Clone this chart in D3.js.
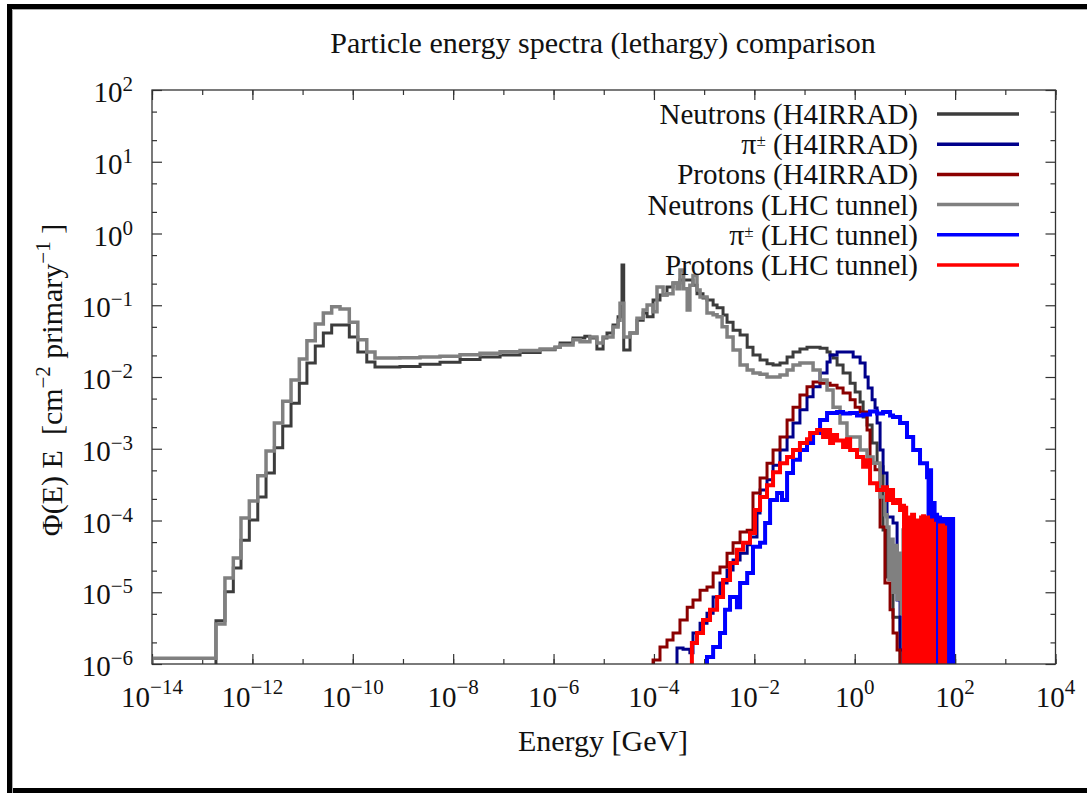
<!DOCTYPE html>
<html>
<head>
<meta charset="utf-8">
<script src="https://cdn.jsdelivr.net/npm/d3@7"></script>
<style>
  body { margin: 0; background: #fff; }
</style>
</head>
<body>
<div id="chart"></div>
<script>
// Data: [E (GeV, left bin edge), lethargy fluence Φ(E)·E (cm^-2 primary^-1)]
// the last pair only closes the last bin; 0 = no flux (drawn below the axis)
const neutronsH4 = [
  [1.88e-13, 4.0e-6], [2.84e-13, 1.02e-5], [4.17e-13, 2.18e-5], [5.93e-13, 5.3e-5], [8.69e-13, 1.02e-4],
  [1.28e-12, 2.13e-4], [1.87e-12, 4.6e-4], [2.74e-12, 1.03e-3], [4.02e-12, 2.07e-3], [5.89e-12, 4.3e-3],
  [8.61e-12, 8.2e-3], [1.22e-11, 1.57e-2], [1.79e-11, 2.7e-2], [2.59e-11, 4.1e-2], [3.8e-11, 5.3e-2],
  [5.57e-11, 5.3e-2], [8.53e-11, 3.6e-2], [1.26e-10, 2.23e-2], [1.9e-10, 1.62e-2], [2.77e-10, 1.38e-2],
  [8.7e-10, 1.4e-2], [2.19e-9, 1.5e-2], [5.47e-9, 1.6e-2], [1.37e-8, 1.75e-2], [3.43e-8, 1.9e-2],
  [8.6e-8, 2.03e-2], [2.15e-7, 2.2e-2], [5.4e-7, 2.4e-2], [1.07e-6, 2.6e-2], [1.35e-6, 2.98e-2],
  [2.44e-6, 3.5e-2], [4.2e-6, 3.7e-2], [5.3e-6, 3.5e-2], [7.3e-6, 2.45e-2], [9.7e-6, 3.5e-2],
  [1.16e-5, 4.1e-2], [1.53e-5, 5.3e-2], [1.93e-5, 6.9e-2], [2.31e-5, 0.364], [2.5e-5, 2.38e-2],
  [3.34e-5, 4.1e-2], [4.6e-5, 6.2e-2], [6.1e-5, 7.8e-2], [7.3e-5, 6.9e-2], [9.6e-5, 0.118],
  [1.32e-4, 0.139], [1.82e-4, 0.18], [2.4e-4, 0.204], [3.3e-4, 0.225], [4.6e-4, 0.225],
  [6.0e-4, 0.19], [7.2e-4, 0.145], [9.5e-4, 0.126], [1.14e-3, 0.118], [1.51e-3, 0.101],
  [1.81e-3, 9.2e-2], [2.38e-3, 7.3e-2], [2.86e-3, 5.8e-2], [3.77e-3, 4.5e-2], [5.2e-3, 3.85e-2],
  [7.2e-3, 2.6e-2], [9.4e-3, 2.03e-2], [1.3e-2, 1.73e-2], [1.79e-2, 1.53e-2], [2.36e-2, 1.47e-2],
  [3.25e-2, 1.57e-2], [4.49e-2, 1.9e-2], [5.9e-2, 2.23e-2], [8.1e-2, 2.45e-2], [0.112, 2.6e-2],
  [0.148, 2.6e-2], [0.204, 2.52e-2], [0.281, 2.23e-2], [0.323, 2.03e-2], [0.37, 1.84e-2],
  [0.445, 1.47e-2], [0.586, 1.14e-2], [0.81, 8.2e-3], [1.02, 6.2e-3], [1.28, 4.5e-3],
  [1.47, 2.77e-3], [1.76, 2.14e-3], [2.22, 1.2e-3], [2.79, 6.3e-4], [3.2, 5.6e-4],
  [3.67, 7.4e-5], [4.4, 1.63e-5], [5.8, 4.5e-6], [8.0, 0]
]

const pionsH4 = [
  [2.88e-4, 1.67e-6], [3.8e-4, 1.6e-6], [5.2e-4, 1.43e-6], [6.0e-4, 2.7e-6], [8.3e-4, 3.7e-6],
  [1.14e-3, 5.1e-6], [1.51e-3, 8.6e-6], [2.07e-3, 1.35e-5], [2.86e-3, 2.04e-5], [3.77e-3, 2.82e-5],
  [5.2e-3, 3.5e-5], [7.2e-3, 4.6e-5], [8.2e-3, 5.9e-5], [1.13e-2, 1.27e-4], [1.3e-2, 2.66e-4],
  [1.79e-2, 3.7e-4], [2.36e-2, 5.9e-4], [3.25e-2, 9.6e-4], [4.49e-2, 1.46e-3], [5.9e-2, 2.29e-3],
  [8.1e-2, 3.5e-3], [0.112, 5.3e-3], [0.148, 7.3e-3], [0.204, 1.14e-2], [0.281, 1.62e-2],
  [0.323, 2.03e-2], [0.445, 2.23e-2], [0.70, 2.23e-2], [0.93, 1.9e-2], [1.28, 1.57e-2],
  [1.61, 1.0e-2], [1.85, 7.0e-3], [2.22, 4.8e-3], [2.54, 3.7e-3], [2.79, 2.29e-3],
  [3.2, 9.6e-4], [3.67, 4.6e-4], [4.4, 1.12e-4], [5.8, 9.2e-5], [6.98, 7.8e-6],
  [8.0, 1.57e-6], [9.2, 0]
]

const protonsH4 = [
  [9.6e-5, 1.14e-6], [1.32e-4, 1.73e-6], [1.82e-4, 2.16e-6], [2.4e-4, 2.7e-6], [3.3e-4, 4.1e-6],
  [4.6e-4, 6.2e-6], [6.0e-4, 7.8e-6], [8.3e-4, 1.07e-5], [1.14e-3, 1.18e-5], [1.51e-3, 1.85e-5],
  [2.07e-3, 2.25e-5], [2.86e-3, 3.5e-5], [3.77e-3, 4.9e-5], [5.2e-3, 6.9e-5], [7.2e-3, 7.3e-5],
  [9.4e-3, 2.42e-4], [1.3e-2, 3.9e-4], [1.79e-2, 6.3e-4], [2.36e-2, 9.6e-4], [3.25e-2, 1.46e-3],
  [4.49e-2, 2.52e-3], [5.9e-2, 3.8e-3], [8.1e-2, 5.6e-3], [0.112, 7.3e-3], [0.148, 8.5e-3],
  [0.204, 8.2e-3], [0.323, 7.7e-3], [0.445, 7.0e-3], [0.586, 6.0e-3], [0.81, 4.8e-3],
  [1.02, 3.8e-3], [1.28, 3.25e-3], [1.76, 1.82e-3], [2.02, 6.3e-4], [2.54, 5.1e-4],
  [3.2, 8.1e-5], [4.0, 1.35e-5], [5.06, 5.7e-6], [5.8, 2.7e-6], [6.98, 1.57e-6], [8.0, 0]
]

const neutronsLhc = [
  [1e-14, 1.2e-6], [1.88e-13, 3.6e-6], [2.84e-13, 1.58e-5], [4.17e-13, 3.0e-5], [5.93e-13, 1.08e-4],
  [8.69e-13, 1.87e-4], [1.28e-12, 4.2e-4], [1.87e-12, 9.3e-4], [2.74e-12, 2.29e-3], [4.02e-12, 4.6e-3],
  [5.89e-12, 9.1e-3], [8.61e-12, 1.78e-2], [1.22e-11, 3.2e-2], [1.79e-11, 5.5e-2], [2.59e-11, 7.8e-2],
  [3.8e-11, 9.5e-2], [5.57e-11, 8.9e-2], [8.53e-11, 5.8e-2], [1.26e-10, 3.3e-2], [1.9e-10, 2.23e-2],
  [2.77e-10, 1.84e-2], [8.7e-10, 1.85e-2], [2.19e-9, 1.9e-2], [5.47e-9, 1.95e-2], [1.37e-8, 2.05e-2],
  [3.43e-8, 2.15e-2], [8.6e-8, 2.25e-2], [2.15e-7, 2.35e-2], [5.4e-7, 2.45e-2], [1.07e-6, 2.6e-2],
  [1.35e-6, 2.8e-2], [2.44e-6, 3.3e-2], [3.37e-6, 3.1e-2], [5.3e-6, 3.6e-2], [7.3e-6, 2.98e-2],
  [9.7e-6, 3.6e-2], [1.53e-5, 4.98e-2], [1.93e-5, 6.2e-2], [2.11e-5, 0.107], [2.5e-5, 3.6e-2],
  [3.34e-5, 4.1e-2], [4.6e-5, 6.6e-2], [6.1e-5, 8.6e-2], [7.3e-5, 0.101], [9.6e-5, 8.1e-2],
  [1.15e-4, 0.18], [1.52e-4, 0.139], [1.82e-4, 0.145], [2.4e-4, 0.204], [2.88e-4, 0.17],
  [3.3e-4, 0.31], [3.9e-4, 0.17], [4.6e-4, 8.6e-2], [5.2e-4, 0.19], [6.0e-4, 0.26],
  [7.2e-4, 0.163], [8.3e-4, 0.13], [1.14e-3, 7.8e-2], [1.51e-3, 7.4e-2], [1.81e-3, 6.9e-2],
  [2.28e-3, 5.0e-2], [2.86e-3, 3.6e-2], [3.77e-3, 2.38e-2], [5.2e-3, 1.47e-2], [7.2e-3, 1.25e-2],
  [9.4e-3, 1.14e-2], [1.3e-2, 1.09e-2], [1.79e-2, 1.0e-2], [2.36e-2, 1.0e-2], [3.25e-2, 1.07e-2],
  [4.49e-2, 1.25e-2], [5.9e-2, 1.47e-2], [8.1e-2, 1.57e-2], [0.112, 1.57e-2], [0.148, 1.25e-2],
  [0.204, 9.1e-3], [0.281, 6.6e-3], [0.37, 3.8e-3], [0.51, 2.29e-3], [0.70, 1.46e-3],
  [0.93, 1.46e-3], [1.28, 9.6e-4], [1.76, 7.7e-4], [2.32, 6.3e-4], [3.2, 2.13e-4],
  [4.0, 1.2e-4], [4.4, 8.1e-5], [4.8, 1.5e-5], [5.3, 5.5e-5], [5.8, 1.0e-5],
  [6.4, 4.5e-5], [7.0, 8e-6], [7.6, 3.5e-5], [8.4, 5e-6], [9.2, 7.4e-5],
  [10.1, 3e-6], [11.0, 4.1e-6], [12.7, 1.0e-4], [14.6, 1.48e-5], [16.7, 0],
  [18.3, 9e-5], [20.0, 0]
]

const pionsLhc = [
  [1.14e-3, 1.25e-6], [1.51e-3, 1.73e-6], [2.07e-3, 2.7e-6], [2.61e-3, 5.7e-6], [3.28e-3, 8.6e-6],
  [4.5e-3, 6.2e-6], [5.2e-3, 1.35e-5], [7.2e-3, 1.85e-5], [9.4e-3, 4.3e-5], [1.3e-2, 4.9e-5],
  [1.64e-2, 9.2e-5], [2.06e-2, 1.93e-4], [2.84e-2, 2.42e-4], [3.56e-2, 1.93e-4], [4.49e-2, 4.6e-4],
  [5.9e-2, 7.0e-4], [8.1e-2, 9.6e-4], [0.112, 1.2e-3], [0.148, 1.66e-3], [0.204, 2.52e-3],
  [0.281, 3.15e-3], [0.445, 3.25e-3], [0.586, 3.1e-3], [0.81, 3.15e-3], [1.11, 2.9e-3],
  [1.47, 3.0e-3], [2.02, 3.3e-3], [2.79, 3.1e-3], [3.67, 3.25e-3], [5.06, 2.9e-3],
  [5.8, 2.77e-3], [8.0, 2.29e-3], [11.0, 1.46e-3], [14.6, 9.6e-4], [20.0, 6.3e-4],
  [27.6, 4.0e-4], [29.6, 0], [31.7, 5.0e-4], [33.2, 0], [36.4, 1.75e-4],
  [39.0, 0], [41.8, 1.2e-4], [43.7, 0], [45.8, 1.1e-4], [50.1, 0],
  [57.5, 1.05e-4], [60.3, 0], [63.1, 1.05e-4], [66.1, 0], [69.2, 1.0e-4],
  [72.4, 0], [75.8, 1.05e-4], [79.4, 0], [83.2, 1.05e-4], [91.2, 0]
]

const protonsLhc = [
  [5.7e-4, 1.96e-6], [7.2e-4, 2.7e-6], [9.5e-4, 4.1e-6], [1.31e-3, 5.7e-6], [1.81e-3, 8.6e-6],
  [2.38e-3, 1.48e-5], [3.28e-3, 2.56e-5], [4.5e-3, 3.9e-5], [5.96e-3, 4.9e-5], [8.2e-3, 6.7e-5],
  [1.03e-2, 1.4e-4], [1.3e-2, 2.13e-4], [1.79e-2, 3.1e-4], [2.36e-2, 4.7e-4], [3.25e-2, 6.3e-4],
  [4.49e-2, 7.7e-4], [5.9e-2, 9.6e-4], [8.1e-2, 1.2e-3], [0.112, 1.36e-3], [0.129, 1.66e-3],
  [0.178, 1.82e-3], [0.234, 1.46e-3], [0.281, 1.82e-3], [0.323, 1.2e-3], [0.37, 1.55e-3],
  [0.445, 1.3e-3], [0.586, 1.06e-3], [0.70, 1.36e-3], [0.81, 9.6e-4], [1.11, 7.7e-4],
  [1.47, 5.6e-4], [1.76, 6.9e-4], [2.02, 3.3e-4], [2.79, 2.66e-4], [3.67, 2.9e-4],
  [4.4, 1.93e-4], [5.06, 2.66e-4], [5.8, 1.75e-4], [6.98, 1.93e-4], [8.0, 1.4e-4],
  [9.2, 1.6e-4], [9.6, 0], [10.1, 1.5e-4], [10.6, 0], [11.0, 1.1e-4],
  [11.6, 0], [12.1, 1.1e-4], [12.7, 0], [13.9, 1.2e-4], [15.2, 0],
  [16.0, 1.0e-4], [17.5, 0], [20.0, 0], [21.0, 1.1e-4], [22.0, 0],
  [23.0, 1.15e-4], [24.1, 0], [25.2, 1.0e-4], [26.4, 0], [27.6, 1.1e-4],
  [28.9, 0], [30.3, 9e-5], [31.7, 0], [33.2, 1.0e-4], [34.8, 0],
  [36.4, 9e-5], [38.0, 0], [50.1, 8.5e-5], [52.5, 0], [55.0, 8.5e-5],
  [57.5, 0], [60.3, 8e-5], [63.1, 0]
]

const seriesNames = ['Neutrons (H4IRRAD)', 'π± (H4IRRAD)', 'Protons (H4IRRAD)',
  'Neutrons (LHC tunnel)', 'π± (LHC tunnel)', 'Protons (LHC tunnel)']
const seriesData = [neutronsH4, pionsH4, protonsH4, neutronsLhc, pionsLhc, protonsLhc]
const seriesColors = ['#3c3c3c', '#00008b', '#8b0000', '#808080', '#0000ff', '#ff0000']
const seriesWidths = [3, 3, 3, 3.5, 4, 4]

// Tick labels (powers of ten)
const xTickExps = [-14, -12, -10, -8, -6, -4, -2, 0, 2, 4]
const yTickExps = [-6, -5, -4, -3, -2, -1, 0, 1, 2]

// Dimension
let dimension = {
  width: 1087,
  height: 793,
  margin: { top: 90, bottom: 129, left: 152, right: 31.5 }
}
dimension.ctrwidth = dimension.width - dimension.margin.left - dimension.margin.right
dimension.ctrheight = dimension.height - dimension.margin.top - dimension.margin.bottom

// every text gets its font set directly
const serifText = (sel, size) => sel
  .style('font-family', "'Liberation Serif'")
  .attr('font-size', size)
  .attr('fill', '#111')

const svg = d3.select('#chart')
  .append('svg')
  .attr('width', dimension.width)
  .attr('height', dimension.height)

// Screenshot frame
svg.append('rect').attr('x', 7).attr('y', 4).attr('width', 1100).attr('height', 5).attr('fill', '#000')
svg.append('rect').attr('x', 7).attr('y', 4).attr('width', 5).attr('height', 789).attr('fill', '#000')
svg.append('rect').attr('x', 7).attr('y', 788).attr('width', 1100).attr('height', 5).attr('fill', '#000')
svg.append('path').attr('d', 'M12.5,800V9.5H1090').attr('fill', 'none').attr('stroke', '#aaa')

const ctr = svg.append('g')
  .attr('transform', `translate(${dimension.margin.left}, ${dimension.margin.top})`)

// Scales
const xScale = d3.scaleLog().domain([1e-14, 1e4]).range([0, dimension.ctrwidth])
const yScale = d3.scaleLog().domain([1e-6, 1e2]).range([dimension.ctrheight, 0])

// Ticks
const decadesX = d3.range(-14, 5).map(p => 10 ** p)
const labeledX = xTickExps.map(p => 10 ** p)
const decadesY = yTickExps.map(p => 10 ** p)
const minorY = d3.merge(d3.range(-6, 2).map(p => [2 * 10 ** p, 5 * 10 ** p]))

const tickStyle = g => {
  g.select('.domain').remove()
  g.selectAll('.tick line').attr('stroke', '#333').attr('stroke-width', 1.2)
}

ctr.append('g').attr('transform', `translate(0, ${dimension.ctrheight})`)
  .call(d3.axisBottom(xScale).tickValues(decadesX).tickSize(-5).tickFormat(''))
  .call(tickStyle)
ctr.append('g').attr('transform', `translate(0, ${dimension.ctrheight})`)
  .call(d3.axisBottom(xScale).tickValues(labeledX).tickSize(-10).tickFormat(''))
  .call(tickStyle)
ctr.append('g')
  .call(d3.axisTop(xScale).tickValues(decadesX).tickSize(-5).tickFormat(''))
  .call(tickStyle)
ctr.append('g')
  .call(d3.axisTop(xScale).tickValues(labeledX).tickSize(-10).tickFormat(''))
  .call(tickStyle)
ctr.append('g')
  .call(d3.axisLeft(yScale).tickValues(decadesY).tickSize(-10).tickFormat(''))
  .call(tickStyle)
ctr.append('g')
  .call(d3.axisLeft(yScale).tickValues(minorY).tickSize(-5).tickFormat(''))
  .call(tickStyle)
ctr.append('g').attr('transform', `translate(${dimension.ctrwidth}, 0)`)
  .call(d3.axisRight(yScale).tickValues(decadesY).tickSize(-10).tickFormat(''))
  .call(tickStyle)
ctr.append('g').attr('transform', `translate(${dimension.ctrwidth}, 0)`)
  .call(d3.axisRight(yScale).tickValues(minorY).tickSize(-5).tickFormat(''))
  .call(tickStyle)

const expText = p => (p < 0 ? '\u2212' + (-p) : String(p))

ctr.append('g').selectAll('text')
  .data(xTickExps)
  .join('text')
  .attr('x', d => xScale(10 ** d))
  .attr('y', dimension.ctrheight + 43)
  .attr('text-anchor', 'middle')
  .call(serifText, 29)
  .each(function (d) {
    const t = d3.select(this)
    t.append('tspan').text('10')
    t.append('tspan').attr('dy', -13).attr('font-size', 21).text(expText(d))
  })

ctr.append('g').selectAll('text')
  .data(yTickExps)
  .join('text')
  .attr('x', -19)
  .attr('y', d => yScale(10 ** d) + 12)
  .attr('text-anchor', 'end')
  .call(serifText, 29)
  .each(function (d) {
    const t = d3.select(this)
    t.append('tspan').text('10')
    t.append('tspan').attr('dy', -11).attr('font-size', 21).text(expText(d))
  })

// Lines
svg.append('clipPath').attr('id', 'plotclip')
  .append('rect')
  .attr('width', dimension.ctrwidth)
  .attr('height', dimension.ctrheight)

const floorY = dimension.ctrheight + 12
const line = d3.line()
  .x(d => xScale(d[0]))
  .y(d => (d[1] > 0 ? yScale(d[1]) : floorY))
  .curve(d3.curveStepAfter)

ctr.append('g')
  .attr('clip-path', 'url(#plotclip)')
  .selectAll('path')
  .data(seriesData)
  .join('path')
  .attr('d', d => line([[d[0][0], 0], ...d]))
  .attr('fill', 'none')
  .attr('stroke', (d, i) => seriesColors[i])
  .attr('stroke-width', (d, i) => seriesWidths[i])
  .attr('stroke-linejoin', 'miter')

// Frame
ctr.append('rect')
  .attr('width', dimension.ctrwidth)
  .attr('height', dimension.ctrheight)
  .attr('fill', 'none')
  .attr('stroke', '#333')
  .attr('stroke-width', 1.3)

// Legend
const legend = ctr.append('g')
  .selectAll('g')
  .data(seriesNames)
  .join('g')
  .attr('transform', (d, i) => `translate(0, ${24 + i * 30.2})`)

legend.append('text')
  .attr('x', 766)
  .attr('y', 10)
  .attr('text-anchor', 'end')
  .call(serifText, 29)
  .each(function (d) {
    const t = d3.select(this)
    if (d.startsWith('π±')) {
      t.append('tspan').attr('font-size', 30).text('π')
      t.append('tspan').attr('dy', -8).attr('font-size', 17).text('±')
      t.append('tspan').attr('dy', 8).text(' ' + d.slice(3))
    } else {
      t.text(d)
    }
  })

legend.append('line')
  .attr('x1', 785)
  .attr('x2', 867)
  .attr('stroke', (d, i) => seriesColors[i])
  .attr('stroke-width', 3.5)

// Titles
svg.append('text')
  .attr('x', 603)
  .attr('y', 53)
  .attr('text-anchor', 'middle')
  .call(serifText, 30)
  .text('Particle energy spectra (lethargy) comparison')

svg.append('text')
  .attr('x', 603)
  .attr('y', 751)
  .attr('text-anchor', 'middle')
  .call(serifText, 30)
  .text('Energy [GeV]')

const yLabel = svg.append('text')
  .attr('transform', 'translate(62, 380) rotate(-90)')
  .attr('text-anchor', 'middle')
  .call(serifText, 30)
  .style('white-space', 'pre')
yLabel.append('tspan').text('Φ(E) E  [cm')
yLabel.append('tspan').attr('dy', -12).attr('font-size', 21).text('\u22122')
yLabel.append('tspan').attr('dy', 12).text(' primary')
yLabel.append('tspan').attr('dy', -12).attr('font-size', 21).text('\u22121')
yLabel.append('tspan').attr('dy', 12).text(' ]')
</script>
</body>
</html>
